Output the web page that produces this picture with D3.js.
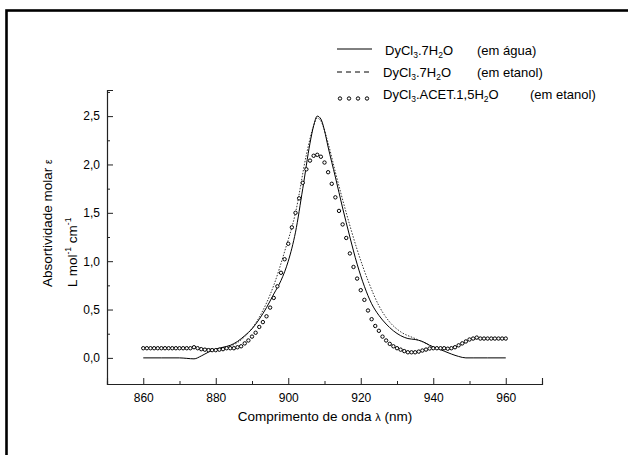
<!DOCTYPE html>
<meta charset="utf-8">
<script src="https://d3js.org/d3.v7.min.js"></script>
<style>
body { margin: 0; background: #fff; }
text { font-family: Arial, "Liberation Sans", sans-serif; fill: #000; }
</style>
<div id="chart"></div>
<script>

// solid line: DyCl3.7H2O (em agua)
var aguaNm  = [860, 865, 870, 872, 874, 876, 878, 880, 882, 884, 886, 888, 890, 892, 894, 896, 898, 900, 902, 904, 906, 907, 908, 909, 910, 911, 913, 915, 917, 919, 921, 923, 925, 927, 929, 931, 933, 935, 937, 939, 941, 943, 945, 947, 949, 951, 955, 960];
var aguaVal = [0, 0, 0, -0.005, -0.01, 0.02, 0.06, 0.09, 0.11, 0.13, 0.17, 0.23, 0.30, 0.40, 0.52, 0.66, 0.80, 1.00, 1.30, 1.75, 2.22, 2.40, 2.50, 2.47, 2.35, 2.18, 1.87, 1.55, 1.25, 0.97, 0.74, 0.56, 0.44, 0.35, 0.28, 0.23, 0.20, 0.19, 0.17, 0.13, 0.10, 0.07, 0.04, 0.015, 0, 0, 0, 0];

// dotted line: DyCl3.7H2O (em etanol)
var etanolNm  = [860, 870, 875, 880, 884, 888, 892, 896, 899, 902, 905, 907, 908, 909, 911, 913, 916, 919, 922, 925, 928, 931, 935, 938, 941, 944, 947, 950, 953, 960];
var etanolVal = [0.10, 0.10, 0.10, 0.09, 0.12, 0.22, 0.42, 0.75, 1.10, 1.50, 2.10, 2.40, 2.48, 2.45, 2.22, 1.92, 1.50, 1.12, 0.80, 0.54, 0.37, 0.27, 0.20, 0.15, 0.10, 0.09, 0.12, 0.18, 0.20, 0.20];

// circles: DyCl3.ACET.1,5H2O (em etanol), one point per nm
var acetNm = [860, 861, 862, 863, 864, 865, 866, 867, 868, 869, 870, 871, 872, 873, 874, 875, 876, 877, 878, 879,
              880, 881, 882, 883, 884, 885, 886, 887, 888, 889, 890, 891, 892, 893, 894, 895, 896, 897, 898, 899,
              900, 901, 902, 903, 904, 905, 906, 907, 908, 909, 910, 911, 912, 913, 914, 915, 916, 917, 918, 919,
              920, 921, 922, 923, 924, 925, 926, 927, 928, 929, 930, 931, 932, 933, 934, 935, 936, 937, 938, 939,
              940, 941, 942, 943, 944, 945, 946, 947, 948, 949, 950, 951, 952, 953, 954, 955, 956, 957, 958, 959, 960];
var acetVal = [0.10, 0.10, 0.10, 0.10, 0.10, 0.10, 0.10, 0.10, 0.10, 0.10, 0.10, 0.10, 0.10, 0.10, 0.11, 0.10, 0.09, 0.085, 0.08, 0.08,
               0.08, 0.085, 0.09, 0.10, 0.10, 0.10, 0.11, 0.12, 0.15, 0.18, 0.22, 0.26, 0.32, 0.37, 0.43, 0.52, 0.62, 0.74, 0.88, 1.02,
               1.18, 1.35, 1.50, 1.65, 1.81, 1.95, 2.04, 2.09, 2.10, 2.08, 2.02, 1.92, 1.80, 1.66, 1.52, 1.38, 1.24, 1.08, 0.94, 0.82,
               0.70, 0.60, 0.49, 0.40, 0.33, 0.28, 0.22, 0.18, 0.145, 0.12, 0.10, 0.085, 0.07, 0.058, 0.058, 0.058, 0.065, 0.076, 0.086, 0.097,
               0.10, 0.10, 0.10, 0.10, 0.095, 0.10, 0.11, 0.13, 0.15, 0.17, 0.19, 0.20, 0.21, 0.20, 0.20, 0.20, 0.20, 0.20, 0.20, 0.20, 0.20];

var xMajor = [860, 880, 900, 920, 940, 960];
var xMinor = [870, 890, 910, 930, 950, 970];
var yMajor = [0, 0.5, 1.0, 1.5, 2.0, 2.5];
var yMinor = [0.25, 0.75, 1.25, 1.75, 2.25, 2.75];

var W = 628, H = 455;
var svg = d3.select("#chart").append("svg")
  .attr("width", W).attr("height", H);

// outer frame (runs off the right and bottom edge)
svg.append("rect")
  .attr("x", 6.5).attr("y", 10.5)
  .attr("width", 700).attr("height", 600)
  .attr("fill", "none").attr("stroke", "#000").attr("stroke-width", 2.6);

var x = d3.scaleLinear().domain([850, 970]).range([107, 542]);
var y = d3.scaleLinear().domain([-0.27, 2.77]).range([384, 90]);

var fmt = function(d) { return d3.format(".1f")(d).replace(".", ","); };

// x axis
var gx = svg.append("g").attr("transform", "translate(0,384)");
gx.call(d3.axisBottom(x).tickValues(xMajor).tickSize(-6).tickPadding(9).tickFormat(d3.format("d")));
gx.append("g").call(d3.axisBottom(x).tickValues(xMinor).tickSize(-3).tickFormat(""));
// y axis
var gy = svg.append("g").attr("transform", "translate(107,0)");
gy.call(d3.axisLeft(y).tickValues(yMajor).tickSize(-6).tickPadding(7).tickFormat(fmt));
gy.append("g").call(d3.axisLeft(y).tickValues(yMinor).tickSize(-3).tickFormat(""));

svg.selectAll(".domain").attr("stroke", "#222").attr("stroke-width", 1.1);
svg.selectAll(".tick line").attr("stroke", "#222");
svg.selectAll(".tick text").attr("font-size", 12).attr("font-family", "Arial, 'Liberation Sans', sans-serif");

// axis titles
var xt = svg.append("text").attr("x", 325).attr("y", 421)
  .attr("text-anchor", "middle").attr("font-size", 13.5);
xt.append("tspan").text("Comprimento de onda ");
xt.append("tspan").attr("font-size", 11).text("λ");
xt.append("tspan").text(" (nm)");

var yt1 = svg.append("text").attr("transform", "translate(52,287) rotate(-90)")
  .attr("font-size", 13.5);
yt1.append("tspan").text("Absortividade molar  ");
yt1.append("tspan").attr("font-size", 10).text("ε");

var yt2 = svg.append("text").attr("transform", "translate(77,287) rotate(-90)")
  .attr("font-size", 13.5);
yt2.append("tspan").text("L  mol");
yt2.append("tspan").attr("font-size", 8.5).attr("dy", -6).text("-1");
yt2.append("tspan").attr("dy", 6).text(" cm");
yt2.append("tspan").attr("font-size", 8.5).attr("dy", -6).text("-1");

// series
var line = d3.line()
  .x(function(d) { return x(d[0]); })
  .y(function(d) { return y(d[1]); })
  .curve(d3.curveMonotoneX);

svg.append("path")
  .datum(d3.zip(etanolNm, etanolVal))
  .attr("d", line)
  .attr("fill", "none").attr("stroke", "#000").attr("stroke-width", 0.8)
  .attr("stroke-dasharray", "1.5,1.5");

svg.append("path")
  .datum(d3.zip(aguaNm, aguaVal))
  .attr("d", line)
  .attr("fill", "none").attr("stroke", "#000").attr("stroke-width", 1);

svg.append("g").selectAll("circle")
  .data(d3.zip(acetNm, acetVal))
  .enter().append("circle")
    .attr("cx", function(d) { return x(d[0]); })
    .attr("cy", function(d) { return y(d[1]); })
    .attr("r", 1.7)
    .attr("fill", "#fff").attr("stroke", "#000").attr("stroke-width", 1);

// legend: chemical formula with subscripts
function formula(t, xpos, ypos, parts) {
  var tx = t.append("text").attr("x", xpos).attr("y", ypos).attr("font-size", 13);
  var shift = 0;
  parts.forEach(function(p) {
    if (p.sub) {
      tx.append("tspan").attr("font-size", 8.5).attr("dy", 3 - shift).text(p.sub);
      shift = 3;
    } else {
      tx.append("tspan").attr("dy", -shift).text(p.t);
      shift = 0;
    }
  });
  return tx;
}

var lg = svg.append("g");
lg.append("line").attr("x1", 337).attr("x2", 372).attr("y1", 49).attr("y2", 49)
  .attr("stroke", "#000").attr("stroke-width", 1);
formula(lg, 385, 55, [{t: "DyCl"}, {sub: "3"}, {t: ".7H"}, {sub: "2"}, {t: "O"}]);
lg.append("text").attr("x", 477).attr("y", 55).attr("font-size", 13).text("(em água)");

lg.append("line").attr("x1", 337).attr("x2", 372).attr("y1", 72).attr("y2", 72)
  .attr("stroke", "#000").attr("stroke-width", 1).attr("stroke-dasharray", "5,4");
formula(lg, 383, 77, [{t: "DyCl"}, {sub: "3"}, {t: ".7H"}, {sub: "2"}, {t: "O"}]);
lg.append("text").attr("x", 477).attr("y", 77).attr("font-size", 13).text("(em etanol)");

lg.selectAll("circle.lg").data([340, 349, 358, 367]).enter().append("circle")
  .attr("cx", function(d) { return d; }).attr("cy", 98.5).attr("r", 1.7)
  .attr("fill", "#fff").attr("stroke", "#000").attr("stroke-width", 1);
formula(lg, 383, 99, [{t: "DyCl"}, {sub: "3"}, {t: ".ACET.1,5H"}, {sub: "2"}, {t: "O"}]);
lg.append("text").attr("x", 530).attr("y", 99).attr("font-size", 13).text("(em etanol)");

</script>
